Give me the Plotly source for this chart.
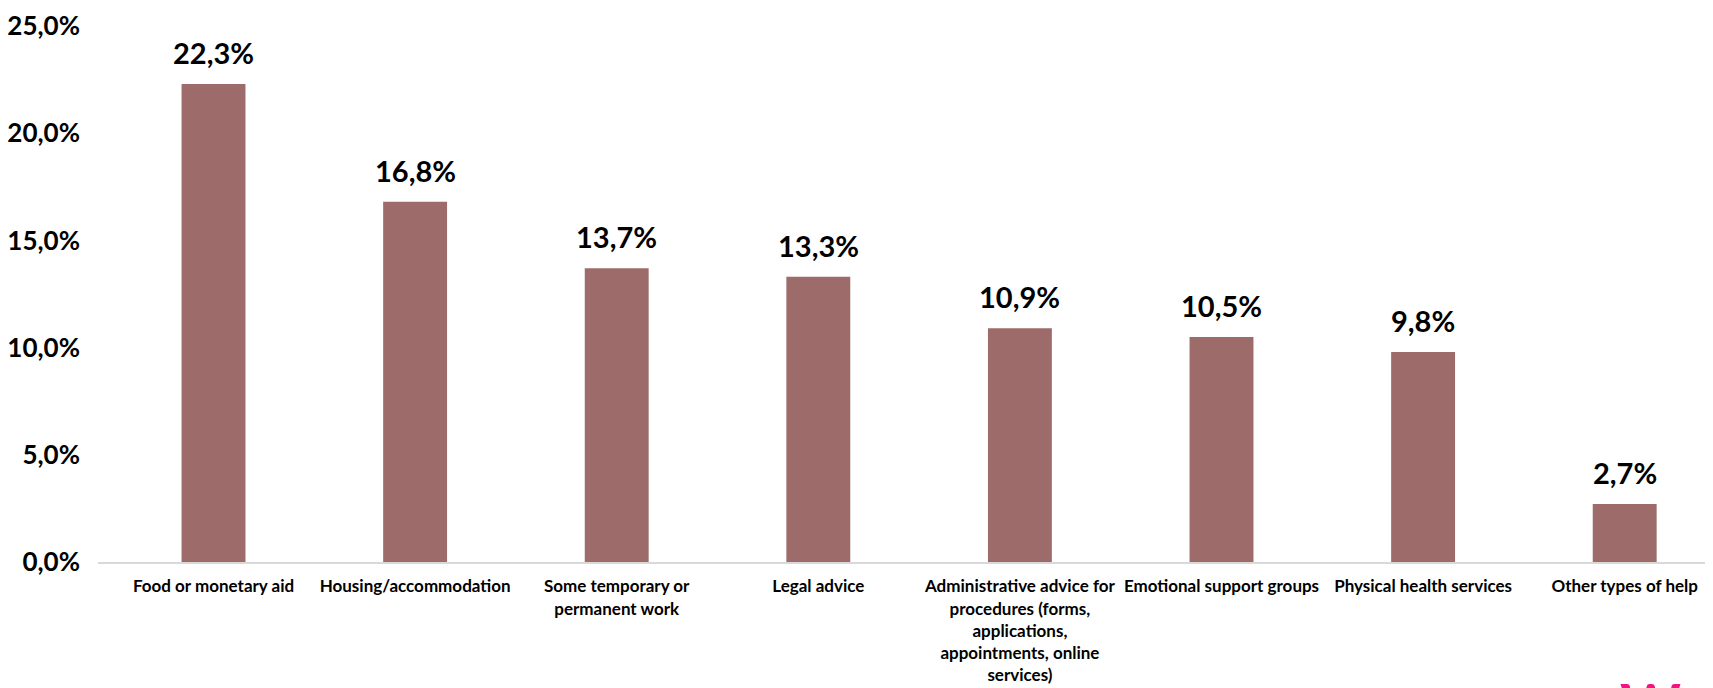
import plotly.graph_objects as go

categories = [
    "Food or monetary aid",
    "Housing/accommodation",
    "Some temporary or<br>permanent work",
    "Legal advice",
    "Administrative advice for<br>procedures (forms,<br>applications,<br>appointments, online<br>services)",
    "Emotional support groups",
    "Physical health services",
    "Other types of help",
]
values = [22.3, 16.8, 13.7, 13.3, 10.9, 10.5, 9.8, 2.7]
value_labels = ["22,3%", "16,8%", "13,7%", "13,3%", "10,9%", "10,5%", "9,8%", "2,7%"]
y_ticks = [0, 5, 10, 15, 20, 25]
y_tick_labels = ["0,0%", "5,0%", "10,0%", "15,0%", "20,0%", "25,0%"]

FONT = "Lato, 'Open Sans', sans-serif"
x = list(range(len(categories)))

# page body has an 8px margin; figure coordinates are offset accordingly
T, B, L, R = 18, 134, 90, 8
PH = 688 - T - B
PW = 1713 - L - R

fig = go.Figure()
fig.add_trace(go.Bar(
    x=x, y=values, width=0.317,
    marker=dict(color="#9c6b6a", line=dict(width=0)),
    hoverinfo="skip",
))

for xi, v, lab in zip(x, values, value_labels):
    fig.add_annotation(x=xi, y=v, text="<b>" + lab + "</b>", showarrow=False,
                       yanchor="bottom", yshift=12,
                       font=dict(family=FONT, size=29, color="#000000"))

# partial pink logo at bottom right (cut off by the page edge, as in the source)
fig.add_annotation(xref="paper", yref="paper", x=(1610 - L) / PW, y=(T + PH - 659) / PH,
                   xanchor="left", yanchor="top", text="<b>Wor</b>", showarrow=False,
                   font=dict(family=FONT, size=58, color="#ee1580"))

fig.update_layout(
    width=1713, height=688,
    margin=dict(l=L, r=R, t=T, b=B),
    paper_bgcolor="white", plot_bgcolor="white",
    showlegend=False,
    font=dict(family=FONT, color="#000000"),
    xaxis=dict(
        tickmode="array", tickvals=x,
        ticktext=["<b>" + c.replace("<br>", "</b><br><b>") + "</b>" for c in categories],
        range=[-0.573, 7.438], automargin=False,
        showline=True, linecolor="#d9d9d9", linewidth=2,
        ticks="", showgrid=False, zeroline=False,
        tickfont=dict(family=FONT, size=17, color="#000000"),
        tickangle=0, ticklabelstandoff=8,
    ),
    yaxis=dict(
        range=[0, 25], tickmode="array", tickvals=y_ticks, automargin=False,
        ticktext=["<b>" + t + "</b>" for t in y_tick_labels],
        showgrid=False, zeroline=False, showline=False, ticks="",
        tickfont=dict(family=FONT, size=26, color="#000000"),
        ticklabelstandoff=17,
    ),
)

fig.write_html("out.html")
